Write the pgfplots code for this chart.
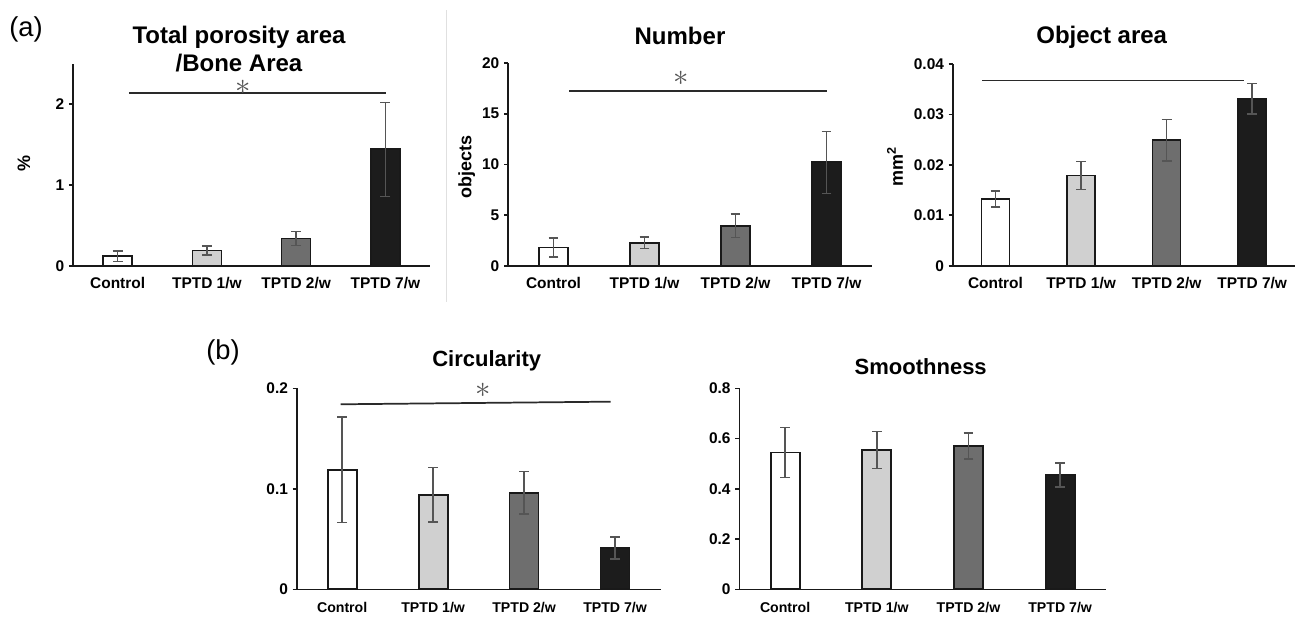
\documentclass[border=0pt]{standalone}
\usepackage{pgfplots}
\pgfplotsset{compat=1.18}
\usepackage{fontspec}
\setmainfont{Liberation Sans}
\definecolor{cL}{HTML}{D0D0D0}
\definecolor{cD}{HTML}{6E6E6E}
\definecolor{cB}{HTML}{1C1C1C}
\definecolor{eb}{HTML}{555555}
\definecolor{sig}{HTML}{2A2A2A}

\pgfplotsset{
 panel/.style={
   scale only axis,
   anchor=south west,
   xmin=-0.5, xmax=3.5, ymin=0,
   xtick={0,1,2,3}, xticklabels={Control,TPTD 1/w,TPTD 2/w,TPTD 7/w},
   axis x line*=bottom, axis y line*=left,
   axis line style={black!90, line width=1.2pt, -},
   major x tick style={draw=none},
   major y tick style={black!90, line width=1.2pt},
   tick align=outside, major tick length=3pt,
   ticklabel style={font=\bfseries\fontsize{11.6}{13}\selectfont},
   xticklabel style={yshift=-2pt},
   /pgf/number format/assume math mode=true,
   scaled y ticks=false,
   yticklabel style={/pgf/number format/fixed, /pgf/number format/precision=2},
   clip=false,
 },
 bot/.style={xticklabel style={font=\bfseries\fontsize{10.6}{12}\selectfont, yshift=-1pt}},
 bstyle/.style={ybar, bar shift=0pt, draw=black!90, line width=1.3pt,
   error bars/y dir=both, error bars/y explicit,
   error bars/error bar style={eb, line width=1.1pt},
   error bars/error mark options={eb, rotate=90, mark size=3.7pt, line width=1.1pt}},
}
\newcommand{\sigstar}{\scalebox{2.3}{$\ast$}}

\begin{document}
\begin{tikzpicture}[x=0.75pt, y=-0.75pt]
\path[use as bounding box] (0,0) rectangle (1306,617);

% divider
\draw[black!12, line width=0.75pt] (446,10) -- (446,302);

% panel labels
\node[font=\fontsize{20.5}{23}\selectfont] at (26,29) {(a)};
\node[font=\fontsize{20.5}{23}\selectfont] at (223,352) {(b)};

% ---------- Total porosity ----------
\begin{axis}[panel, at={(73*0.75pt,-266*0.75pt)}, width=267.75pt, height=151.875pt,
  ymax=2.5, ytick={0,1,2}]
\addplot[bstyle, bar width=21.75pt, fill=white] coordinates {(0,0.12) +- (0,0.065)};
\addplot[bstyle, bar width=21.75pt, fill=cL] coordinates {(1,0.19) +- (0,0.055)};
\addplot[bstyle, bar width=21.75pt, fill=cD] coordinates {(2,0.34) +- (0,0.085)};
\addplot[bstyle, bar width=21.75pt, fill=cB] coordinates {(3,1.44) +- (0,0.58)};
\draw[sig, line width=1.3pt] (axis cs:0.127,2.14) -- (axis cs:3.007,2.14);
\node[eb, inner sep=0pt] at (axis cs:1.405,2.21) {\sigstar};
\end{axis}
\node[font=\bfseries\fontsize{18}{20}\selectfont, anchor=base] at (239,43.5) {Total porosity area};
\node[font=\bfseries\fontsize{18}{20}\selectfont, anchor=base] at (239,71.5) {/Bone Area};
\node[font=\bfseries\fontsize{13.5}{15}\selectfont, rotate=90] at (24,163) {\%};

% ---------- Number ----------
\begin{axis}[panel, at={(508*0.75pt,-265.7*0.75pt)}, width=273pt, height=152pt,
  ymax=20, ytick={0,5,10,15,20}]
\addplot[bstyle, bar width=21.75pt, fill=white] coordinates {(0,1.8) +- (0,0.95)};
\addplot[bstyle, bar width=21.75pt, fill=cL] coordinates {(1,2.27) +- (0,0.58)};
\addplot[bstyle, bar width=21.75pt, fill=cD] coordinates {(2,3.94) +- (0,1.18)};
\addplot[bstyle, bar width=21.75pt, fill=cB] coordinates {(3,10.2) +- (0,3.05)};
\draw[sig, line width=1.3pt] (axis cs:0.174,17.24) -- (axis cs:3.009,17.24);
\node[eb, inner sep=0pt] at (axis cs:1.40,18.45) {\sigstar};
\end{axis}
\node[font=\bfseries\fontsize{18}{20}\selectfont, anchor=base] at (680,45) {Number};
\node[font=\bfseries\fontsize{13.5}{15}\selectfont, rotate=90] at (466.7,166.7) {objects};

% ---------- Object area ----------
\begin{axis}[panel, at={(952.7*0.75pt,-265.7*0.75pt)}, width=256.7pt, height=151.3pt,
  ymax=0.04, ytick={0,0.01,0.02,0.03,0.04}]
\addplot[bstyle, bar width=21pt, fill=white] coordinates {(0,0.0132) +- (0,0.0016)};
\addplot[bstyle, bar width=21pt, fill=cL] coordinates {(1,0.0179) +- (0,0.0028)};
\addplot[bstyle, bar width=21pt, fill=cD] coordinates {(2,0.0249) +- (0,0.0041)};
\addplot[bstyle, bar width=21pt, fill=cB] coordinates {(3,0.0331) +- (0,0.0030)};
\draw[sig, line width=1.3pt] (axis cs:-0.154,0.0367) -- (axis cs:2.904,0.0367);
\end{axis}
\node[font=\bfseries\fontsize{18}{20}\selectfont, anchor=base] at (1101.7,44) {Object area};
\node[font=\bfseries\fontsize{13.5}{15}\selectfont, rotate=90] at (895,166.7) {mm\textsuperscript{2}};

% ---------- Circularity ----------
\begin{axis}[panel, bot, at={(296.7*0.75pt,-589.3*0.75pt)}, width=272.9pt, height=150.75pt,
  ymax=0.2, ytick={0,0.1,0.2}]
\addplot[bstyle, bar width=21.75pt, fill=white] coordinates {(0,0.119) +- (0,0.0525)};
\addplot[bstyle, bar width=21.75pt, fill=cL] coordinates {(1,0.094) +- (0,0.027)};
\addplot[bstyle, bar width=21.75pt, fill=cD] coordinates {(2,0.096) +- (0,0.021)};
\addplot[bstyle, bar width=21.75pt, fill=cB] coordinates {(3,0.041) +- (0,0.011)};
\draw[sig, line width=1.3pt] (axis cs:-0.0165,0.1841) -- (axis cs:2.95,0.1867);
\node[eb, inner sep=0pt] at (axis cs:1.55,0.1975) {\sigstar};
\end{axis}
\node[font=\bfseries\fontsize{16.5}{18}\selectfont, anchor=base] at (486.7,366.7) {Circularity};

% ---------- Smoothness ----------
\begin{axis}[panel, bot, at={(739.3*0.75pt,-589.3*0.75pt)}, width=275pt, height=150.75pt,
  ymax=0.8, ytick={0,0.2,0.4,0.6,0.8}]
\addplot[bstyle, bar width=21.75pt, fill=white] coordinates {(0,0.545) +- (0,0.10)};
\addplot[bstyle, bar width=21.75pt, fill=cL] coordinates {(1,0.554) +- (0,0.074)};
\addplot[bstyle, bar width=21.75pt, fill=cD] coordinates {(2,0.570) +- (0,0.052)};
\addplot[bstyle, bar width=21.75pt, fill=cB] coordinates {(3,0.455) +- (0,0.047)};
\end{axis}
\node[font=\bfseries\fontsize{16.5}{18}\selectfont, anchor=base] at (920.7,374.3) {Smoothness};
\end{tikzpicture}
\end{document}
